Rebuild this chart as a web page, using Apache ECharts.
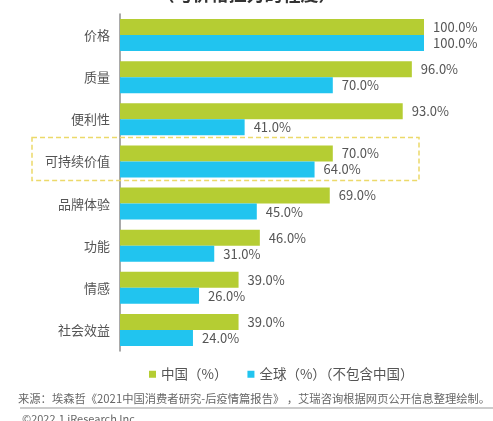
<!DOCTYPE html>
<html>
<head>
<meta charset="utf-8">
<script src="https://cdn.jsdelivr.net/npm/echarts@6/dist/echarts.min.js"></script>
<style>
html,body{margin:0;padding:0;background:#fff;}
#c{width:493px;height:421px;}
</style>
</head>
<body>
<div id="c"></div>
<script>
const categories = ['价格', '质量', '便利性', '可持续价值', '品牌体验', '功能', '情感', '社会效益'];
const chinaValues = [100, 96, 93, 70, 69, 46, 39, 39];
const globalValues = [100, 70, 41, 64, 45, 31, 26, 24];
const seriesNames = ['中国（%）', '全球（%）（不包含中国）'];
const highlightCategory = '可持续价值';
const titleText = '（与价格拉力的程度）';
const sourceText = '来源：埃森哲《2021中国消费者研究-后疫情篇报告》 ，艾瑞咨询根据网页公开信息整理绘制。';
const copyrightText = '©2022.1 iResearch Inc.';

const FONT = '"Noto Sans CJK SC", "Noto Sans", sans-serif';
const chart = echarts.init(document.getElementById('c'));

const labelCfg = {
  show: true,
  position: 'right',
  distance: 9,
  color: '#555',
  fontSize: 13,
  fontFamily: FONT,
  formatter: p => p.value.toFixed(1) + '%'
};

chart.setOption({
  animation: false,
  backgroundColor: '#fff',
  textStyle: { fontFamily: FONT },
  grid: { left: 120, right: 69, top: 14, bottom: 70, containLabel: false },
  legend: {
    data: seriesNames,
    bottom: 35,
    left: 144,
    itemWidth: 7,
    itemHeight: 7,
    itemGap: 20,
    icon: 'rect',
    textStyle: { color: '#555', fontSize: 13.5, fontFamily: FONT }
  },
  xAxis: {
    type: 'value',
    min: 0,
    max: 100,
    show: false
  },
  yAxis: {
    type: 'category',
    data: categories,
    inverse: true,
    axisLine: { show: true, lineStyle: { color: '#8c8c8c', width: 1.5 } },
    axisTick: { show: false },
    axisLabel: { color: '#555', fontSize: 13, fontFamily: FONT, margin: 10 }
  },
  series: [
    {
      name: seriesNames[0],
      type: 'bar',
      data: chinaValues,
      barGap: '0%',
      barCategoryGap: '24%',
      itemStyle: { color: '#b5cd33' },
      label: labelCfg
    },
    {
      name: seriesNames[1],
      type: 'bar',
      data: globalValues,
      itemStyle: { color: '#21c4ef' },
      label: labelCfg
    }
  ]
});

// Annotation rectangle, header and footer derived from axis scales
const cy = chart.convertToPixel({ yAxisIndex: 0 }, highlightCategory);
const x0 = chart.convertToPixel({ xAxisIndex: 0 }, 0);
const x100 = chart.convertToPixel({ xAxisIndex: 0 }, 100);
const band = (chart.convertToPixel({ yAxisIndex: 0 }, categories[1]) - chart.convertToPixel({ yAxisIndex: 0 }, categories[0]));

chart.setOption({
  graphic: [
    {
      type: 'rect',
      silent: true,
      shape: { x: x0 - 88, y: cy - band / 2 - 3, width: (x100 - x0) + 88 - 5, height: band + 1 },
      style: { fill: 'none', stroke: '#ecd96a', lineWidth: 1.5, lineDash: [5, 3] },
      z: 10
    },
    {
      type: 'text',
      left: 'center',
      top: -15,
      style: { text: titleText, fill: '#333', font: 'bold 18px ' + FONT }
    },
    {
      type: 'text',
      left: 18,
      top: 393,
      style: { text: sourceText, fill: '#666', font: '11.3px ' + FONT }
    },
    {
      type: 'line',
      shape: { x1: 20, y1: 408, x2: 493, y2: 408 },
      style: { stroke: '#999', lineWidth: 1 }
    },
    {
      type: 'text',
      left: 22,
      top: 413,
      style: { text: copyrightText, fill: '#666', font: '11px ' + FONT }
    }
  ]
});
</script>
</body>
</html>
